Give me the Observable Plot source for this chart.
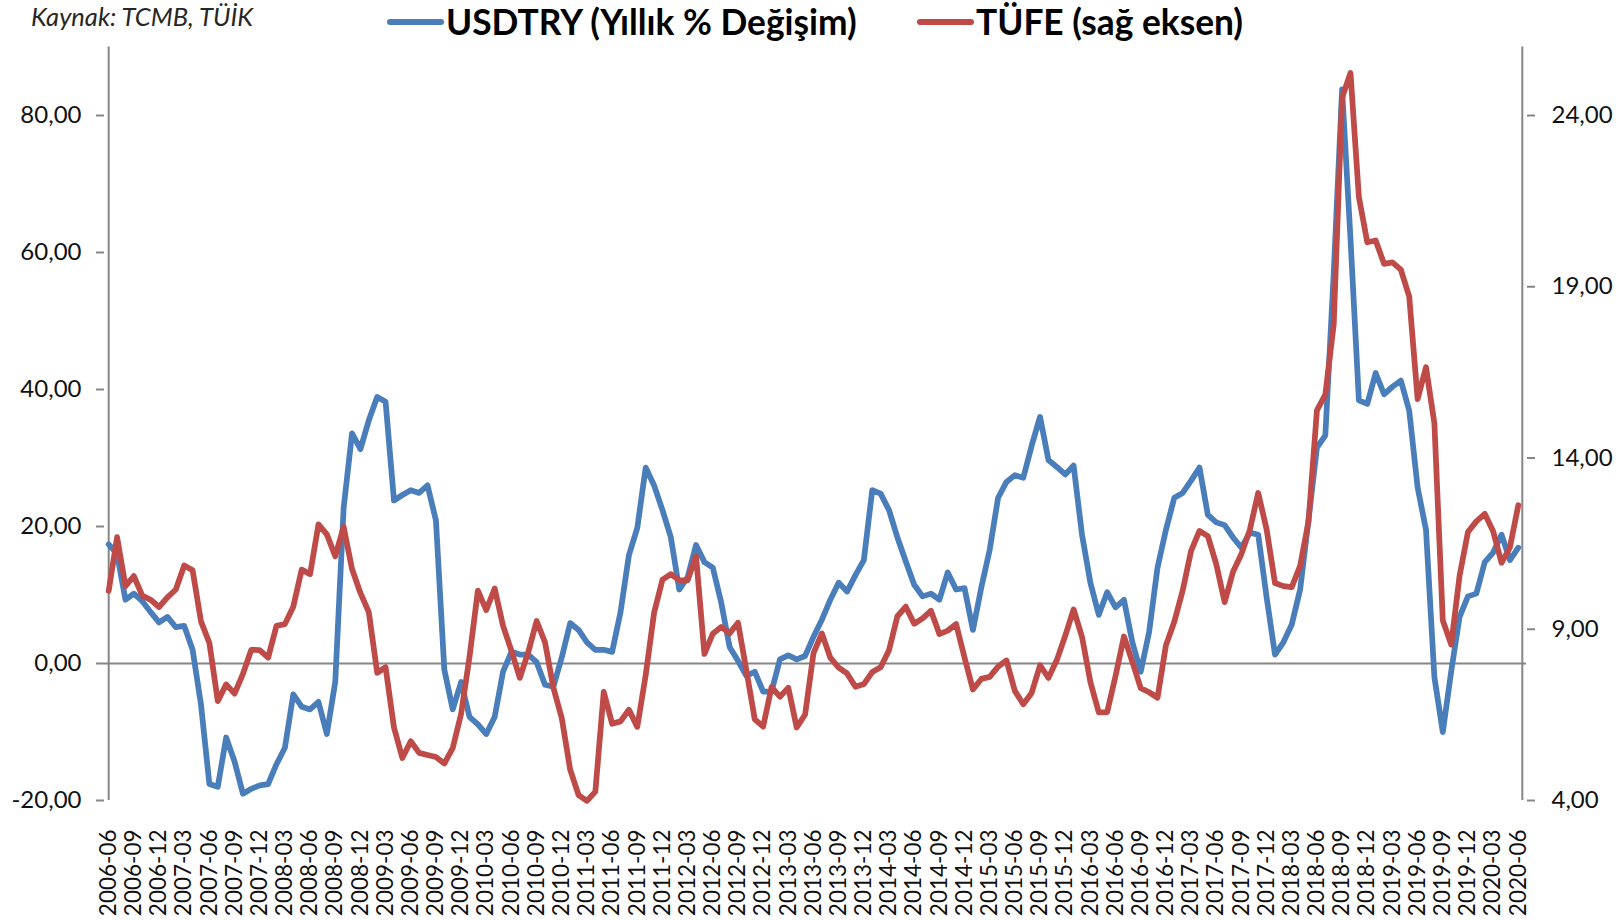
<!DOCTYPE html>
<html>
<head>
<meta charset="utf-8">
<script src="https://cdn.jsdelivr.net/npm/d3@7"></script>
<script src="https://cdn.jsdelivr.net/npm/@observablehq/plot@0.6"></script>
<style>
html,body{margin:0;padding:0;background:#fff;}
#wrap{position:relative;width:1619px;height:920px;overflow:hidden;font-family:Lato,"Noto Sans",sans-serif;}
#head{position:relative;height:40px;}
.src{position:absolute;left:31px;top:1px;font-style:italic;font-size:25.5px;line-height:30px;color:#262626;white-space:nowrap;}
.leg{position:absolute;top:2px;font-weight:bold;font-size:35.3px;line-height:40px;color:#000;white-space:nowrap;display:flex;align-items:center;}
.sw{display:inline-block;width:57px;height:6px;margin-right:2px;border-radius:3px;}
#chart svg{display:block;overflow:visible;}
</style>
</head>
<body>
<div id="wrap">
  <div id="head">
    <div class="src" id="src"></div>
    <div class="leg" id="leg1" style="left:387px"><span class="sw" id="sw1"></span><span id="lt1"></span></div>
    <div class="leg" id="leg2" style="left:917px"><span class="sw" id="sw2"></span><span id="lt2"></span></div>
  </div>
  <div id="chart"></div>
</div>
<script>
// ---- data ----
const sourceText = "Kaynak: TCMB, TÜİK";
const seriesNames = ["USDTRY (Yıllık % Değişim)", "TÜFE (sağ eksen)"];
const seriesColors = ["#4A7EBB", "#BE4B48"];

const months = [
  "2006-06","2006-07","2006-08","2006-09","2006-10","2006-11","2006-12",
  "2007-01","2007-02","2007-03","2007-04","2007-05","2007-06","2007-07","2007-08","2007-09","2007-10","2007-11","2007-12",
  "2008-01","2008-02","2008-03","2008-04","2008-05","2008-06","2008-07","2008-08","2008-09","2008-10","2008-11","2008-12",
  "2009-01","2009-02","2009-03","2009-04","2009-05","2009-06","2009-07","2009-08","2009-09","2009-10","2009-11","2009-12",
  "2010-01","2010-02","2010-03","2010-04","2010-05","2010-06","2010-07","2010-08","2010-09","2010-10","2010-11","2010-12",
  "2011-01","2011-02","2011-03","2011-04","2011-05","2011-06","2011-07","2011-08","2011-09","2011-10","2011-11","2011-12",
  "2012-01","2012-02","2012-03","2012-04","2012-05","2012-06","2012-07","2012-08","2012-09","2012-10","2012-11","2012-12",
  "2013-01","2013-02","2013-03","2013-04","2013-05","2013-06","2013-07","2013-08","2013-09","2013-10","2013-11","2013-12",
  "2014-01","2014-02","2014-03","2014-04","2014-05","2014-06","2014-07","2014-08","2014-09","2014-10","2014-11","2014-12",
  "2015-01","2015-02","2015-03","2015-04","2015-05","2015-06","2015-07","2015-08","2015-09","2015-10","2015-11","2015-12",
  "2016-01","2016-02","2016-03","2016-04","2016-05","2016-06","2016-07","2016-08","2016-09","2016-10","2016-11","2016-12",
  "2017-01","2017-02","2017-03","2017-04","2017-05","2017-06","2017-07","2017-08","2017-09","2017-10","2017-11","2017-12",
  "2018-01","2018-02","2018-03","2018-04","2018-05","2018-06","2018-07","2018-08","2018-09","2018-10","2018-11","2018-12",
  "2019-01","2019-02","2019-03","2019-04","2019-05","2019-06","2019-07","2019-08","2019-09","2019-10","2019-11","2019-12",
  "2020-01","2020-02","2020-03","2020-04","2020-05","2020-06"
];

// USDTRY yearly % change (left axis)
const usdtry = [
  17.4, 16.0, 9.3, 10.2, 9.1, 7.5, 6.0,
  6.8, 5.3, 5.5, 2.0, -6.0, -17.6, -18.0, -10.8, -14.3, -19.0, -18.3, -17.8,
  -17.6, -14.7, -12.3, -4.5, -6.3, -6.7, -5.6, -10.3, -2.7, 22.7, 33.6, 31.3,
  35.5, 38.9, 38.2, 23.8, 24.6, 25.3, 24.9, 26.0, 20.9, -0.9, -6.7, -2.7,
  -7.8, -8.9, -10.3, -7.8, -1.2, 1.7, 1.3, 1.3, 0.2, -3.1, -3.4, 0.9,
  5.9, 4.9, 3.1, 2.0, 2.0, 1.7, 7.5, 15.8, 19.8, 28.6, 26.0, 22.4,
  18.4, 10.8, 12.6, 17.3, 14.8, 14.0, 8.9, 2.4, 0.4, -1.8, -1.2, -4.1,
  -4.1, 0.6, 1.2, 0.6, 1.1, 3.9, 6.4, 9.3, 11.8, 10.5, 12.9, 15.1,
  25.3, 24.8, 22.4, 18.4, 14.9, 11.5, 9.8, 10.2, 9.3, 13.3, 10.8, 11.0,
  4.9, 11.1, 16.6, 24.2, 26.5, 27.5, 27.1, 31.8, 36.0, 29.7, 28.7, 27.6,
  28.9, 18.8, 11.8, 7.1, 10.4, 8.2, 9.3, 3.1, -1.2, 4.6, 14.0, 19.5,
  24.2, 24.9, 26.7, 28.6, 21.7, 20.6, 20.2, 18.4, 16.9, 19.1, 18.8, 9.7,
  1.3, 3.1, 5.7, 10.8, 21.0, 31.5, 33.3, 57.0, 83.8, 62.0, 38.4, 37.9,
  42.4, 39.3, 40.4, 41.3, 36.9, 25.7, 19.5, -2.0, -10.0, -1.2, 6.8, 9.8,
  10.2, 14.8, 16.2, 18.8, 15.1, 16.9
];

// TÜFE yearly % (right axis)
const tufe = [
  10.12, 11.69, 10.26, 10.55, 9.98, 9.86, 9.65,
  9.93, 10.16, 10.86, 10.72, 9.23, 8.60, 6.90, 7.39, 7.12, 7.70, 8.40, 8.39,
  8.17, 9.10, 9.15, 9.66, 10.74, 10.61, 12.06, 11.77, 11.13, 11.99, 10.76, 10.06,
  9.50, 7.73, 7.89, 6.13, 5.24, 5.73, 5.39, 5.33, 5.27, 5.08, 5.53, 6.53,
  8.19, 10.13, 9.56, 10.19, 9.10, 8.37, 7.58, 8.33, 9.24, 8.62, 7.29, 6.40,
  4.90, 4.16, 3.99, 4.26, 7.17, 6.24, 6.31, 6.65, 6.15, 7.66, 9.48, 10.45,
  10.61, 10.43, 10.43, 11.14, 8.28, 8.87, 9.07, 8.88, 9.19, 7.80, 6.37, 6.16,
  7.31, 7.03, 7.29, 6.13, 6.51, 8.30, 8.88, 8.17, 7.88, 7.71, 7.32, 7.40,
  7.75, 7.89, 8.39, 9.38, 9.66, 9.16, 9.32, 9.54, 8.86, 8.96, 9.15, 8.17,
  7.24, 7.55, 7.61, 7.91, 8.09, 7.20, 6.81, 7.14, 7.95, 7.58, 8.10, 8.81,
  9.58, 8.78, 7.46, 6.57, 6.58, 7.64, 8.79, 8.05, 7.28, 7.16, 7.00, 8.53,
  9.22, 10.13, 11.29, 11.87, 11.72, 10.90, 9.79, 10.68, 11.20, 11.90, 12.98, 11.92,
  10.35, 10.26, 10.23, 10.85, 12.15, 15.39, 15.85, 17.90, 24.52, 25.24, 21.62, 20.30,
  20.35, 19.67, 19.71, 19.50, 18.71, 15.72, 16.65, 15.01, 9.26, 8.55, 10.56, 11.84,
  12.15, 12.37, 11.86, 10.94, 11.39, 12.62
];

const leftTicks = [-20, 0, 20, 40, 60, 80];
const rightTicks = [4, 9, 14, 19, 24];
const leftDomain = [-20, 90];
const rightDomain = [4, 26];

// ---- chart ----
document.getElementById("src").textContent = sourceText;
document.getElementById("lt1").textContent = seriesNames[0];
document.getElementById("lt2").textContent = seriesNames[1];
document.getElementById("sw1").style.background = seriesColors[0];
document.getElementById("sw2").style.background = seriesColors[1];

const data = months.map((m, i) => ({m, usd: usdtry[i], tufe: tufe[i]}));
// map right-axis values onto the left scale
const k = (leftDomain[1] - leftDomain[0]) / (rightDomain[1] - rightDomain[0]);
const toLeft = r => leftDomain[0] + (r - rightDomain[0]) * k;
const toRight = v => rightDomain[0] + (v - leftDomain[0]) / k;
const fmt = v => (Math.round(v * 100) / 100).toFixed(2).replace(".", ",");
const tickMonths = months.filter((m, i) => i % 3 === 0);
const axisGray = "#868686";

const chart = Plot.plot({
  width: 1619,
  height: 880,
  marginLeft: 104,
  marginRight: 93,
  marginTop: 6.5,
  marginBottom: 120,
  style: {fontFamily: "Lato, 'Noto Sans', sans-serif", background: "white", overflow: "visible"},
  x: {type: "point", domain: months, range: [104, 1522]},
  y: {domain: leftDomain},
  marks: [
    Plot.ruleY([0], {stroke: axisGray, strokeWidth: 2}),
    Plot.ruleX([months[0]], {stroke: axisGray, strokeWidth: 2}),
    Plot.ruleX([months[months.length - 1]], {stroke: axisGray, strokeWidth: 2, dx: 4}),
    Plot.axisY({anchor: "left", ticks: leftTicks, tickFormat: fmt, tickSize: 8, tickPadding: 15,
      stroke: axisGray, strokeWidth: 2, fill: "#111", fontSize: 24, label: null}),
    Plot.axisY({anchor: "right", ticks: rightTicks.map(toLeft), tickFormat: v => fmt(toRight(v)), tickSize: 8, tickPadding: 17,
      stroke: axisGray, strokeWidth: 2, fill: "#111", fontSize: 24, label: null}),
    Plot.axisX({ticks: tickMonths, tickRotate: -90, tickSize: 0, tickPadding: 29, fill: "#111", fontSize: 22.5, label: null}),
    Plot.line(data, {x: "m", y: "usd", stroke: seriesColors[0], strokeWidth: 5.75, strokeLinejoin: "round", strokeLinecap: "round"}),
    Plot.line(data, {x: "m", y: d => toLeft(d.tufe), stroke: seriesColors[1], strokeWidth: 5.75, strokeLinejoin: "round", strokeLinecap: "round"})
  ]
});
document.getElementById("chart").appendChild(chart);
</script>
</body>
</html>
